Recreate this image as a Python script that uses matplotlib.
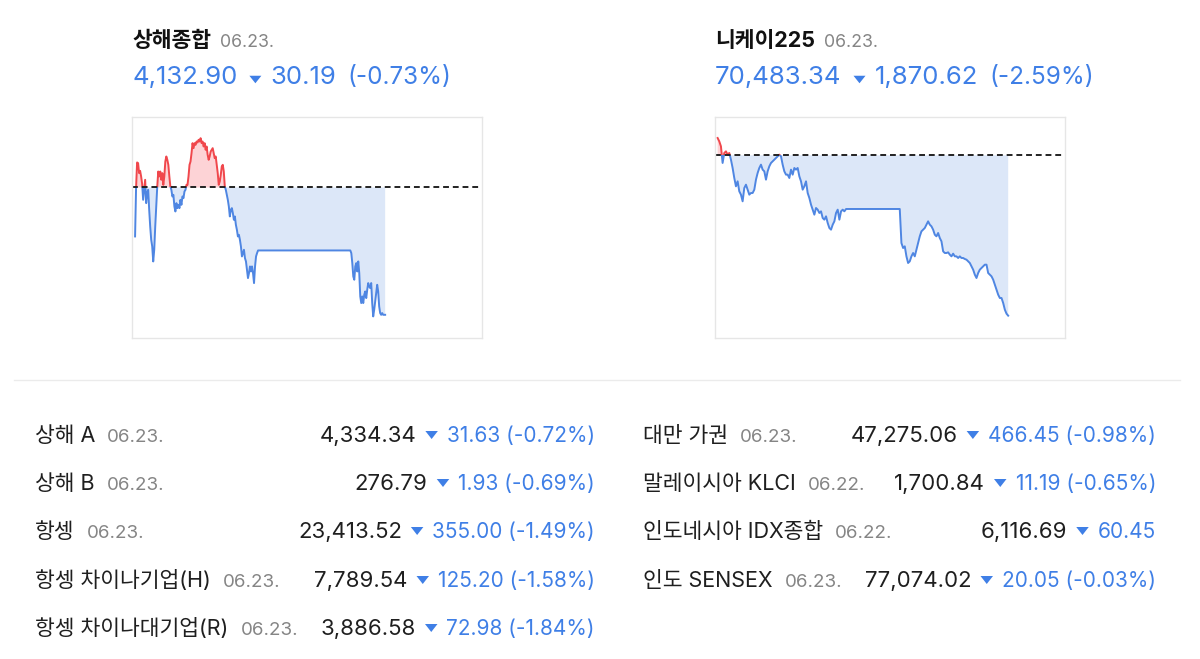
import numpy as np
import matplotlib
matplotlib.use("Agg")
from matplotlib import pyplot as plt
from matplotlib.lines import Line2D
from matplotlib.patches import Rectangle, Polygon

plt.rcParams['font.family'] = ['Inter', 'Noto Sans CJK KR', 'DejaVu Sans']

# ---- intraday data: 상해종합 (evenly spaced samples per session)
sh_prev_close = 4163.09
sh_am_times = ("09:30", "11:30")
sh_am = [4151.48, 4163.09, 4169.02, 4168.86, 4166.49, 4167.04, 4165.70, 4163.96, 4160.17, 4162.54,
         4164.91, 4159.38, 4161.75, 4162.54, 4157.80, 4153.85, 4150.69, 4149.11, 4145.55, 4148.32,
         4153.85, 4158.59, 4163.33, 4166.88, 4165.70, 4166.88, 4164.91, 4166.49, 4163.72, 4165.70,
         4169.25, 4170.44, 4169.65, 4168.46, 4165.70, 4163.33, 4162.54, 4160.96, 4161.35, 4158.59,
         4157.40, 4159.38, 4158.19, 4158.98, 4158.19, 4160.17, 4158.98, 4160.96, 4160.56, 4162.14,
         4162.54, 4163.72, 4163.72, 4165.70, 4168.46, 4169.25, 4171.23, 4173.60, 4172.41, 4173.60,
         4173.20, 4173.99, 4173.76, 4174.39, 4173.99, 4174.78, 4173.60, 4173.99, 4172.81, 4173.60,
         4172.02, 4172.81, 4170.83, 4169.65, 4170.44, 4171.62, 4172.02, 4172.41, 4171.23, 4170.04,
         4170.44, 4168.46, 4166.49, 4163.72, 4164.51, 4166.09, 4168.07, 4168.46, 4166.88, 4163.33,
         4162.54, 4161.35, 4160.17, 4158.59, 4156.22, 4157.80, 4158.19, 4157.01, 4155.43, 4156.22,
         4154.24, 4153.06, 4151.48, 4151.87, 4150.69, 4149.11, 4146.74, 4147.53, 4148.32, 4146.34,
         4145.55, 4143.58, 4141.60, 4142.79, 4144.37, 4143.18, 4144.37, 4142.79, 4140.42, 4144.37,
         4146.74, 4147.53, 4148.16]
sh_pm_times = ("13:00", "13:34")
sh_pm = [4148.16, 4147.53, 4145.16, 4142.00, 4141.21, 4144.37, 4145.16, 4143.18, 4145.55, 4142.79,
         4137.26, 4135.68, 4137.26, 4135.68, 4137.65, 4138.44, 4136.86, 4138.84, 4140.42, 4139.63,
         4139.23, 4140.42, 4135.68, 4132.52, 4134.10, 4136.07, 4138.05, 4140.02, 4138.44, 4134.89,
         4133.31, 4132.90, 4133.31, 4132.90, 4132.90, 4132.90]

# ---- intraday data: 니케이225
nk_prev_close = 72353.96
nk_am_times = ("09:00", "11:30")
nk_am = [72556.2, 72517.3, 72459.0, 72264.5, 72381.2, 72400.6, 72361.7, 72381.2, 72303.4, 72206.2,
         72089.5, 71992.3, 72050.6, 71934.0, 71895.1, 71817.3, 71972.8, 72011.7, 71953.4, 71895.1,
         71914.5, 71914.5, 71953.4, 72070.1, 72147.9, 72206.2, 72245.1, 72186.8, 72167.3, 72070.1,
         72167.3, 72225.7, 72264.5, 72284.0, 72303.4, 72322.9, 72342.3, 72361.7, 72342.3, 72245.1,
         72167.3, 72128.4, 72128.4, 72089.5, 72186.8, 72128.4, 72206.2, 72186.8, 72206.2, 72109.0,
         72050.6, 71953.4, 71992.3, 72050.6, 71914.5, 71856.2, 71778.4, 71720.1, 71661.8, 71739.5,
         71720.1, 71681.2, 71700.6, 71622.9, 71603.4, 71642.3, 71564.5, 71506.2, 71486.8, 71545.1,
         71584.0, 71681.2, 71720.1, 71603.4, 71700.6, 71720.1, 71700.6, 71727.9, 71727.9]
nk_pm_times = ("12:30", "14:35")
nk_pm = [71727.9, 71331.2, 71272.9, 71292.3, 71175.6, 71097.9, 71117.3, 71175.6, 71214.5, 71175.6,
         71253.4, 71331.2, 71409.0, 71467.3, 71486.8, 71506.2, 71545.1, 71584.0, 71545.1, 71525.6,
         71486.8, 71428.4, 71409.0, 71447.9, 71389.5, 71350.6, 71234.0, 71214.5, 71214.5, 71222.3,
         71195.1, 71175.6, 71206.7, 71175.6, 71175.6, 71156.2, 71175.6, 71156.2, 71156.2, 71144.5,
         71136.7, 71117.3, 71097.9, 71059.0, 71020.1, 70961.7, 70922.8, 70981.2, 71020.1, 71039.5,
         71059.0, 71078.4, 71078.4, 70981.2, 70961.7, 70942.3, 70903.4, 70845.1, 70786.7, 70728.4,
         70689.5, 70689.5, 70631.2, 70553.4, 70506.7, 70483.34]

# ---- header quotes
headers = ["상해종합", "니케이225"]
header_dates = ["06.23.", "06.23."]
header_values = ["4,132.90", "70,483.34"]
header_changes = ["30.19", "1,870.62"]
header_pcts = ["(-0.73%)", "(-2.59%)"]

# ---- table quotes
left_names = ["상해 A", "상해 B", "항셍", "항셍 차이나기업(H)", "항셍 차이나대기업(R)"]
left_dates = ["06.23.", "06.23.", "06.23.", "06.23.", "06.23."]
left_values = ["4,334.34", "276.79", "23,413.52", "7,789.54", "3,886.58"]
left_changes = ["31.63 (-0.72%)", "1.93 (-0.69%)", "355.00 (-1.49%)", "125.20 (-1.58%)", "72.98 (-1.84%)"]

right_names = ["대만 가권", "말레이시아 KLCI", "인도네시아 IDX종합", "인도 SENSEX"]
right_dates = ["06.23.", "06.22.", "06.22.", "06.23."]
right_values = ["47,275.06", "1,700.84", "6,116.69", "77,074.02"]
right_changes = ["466.45 (-0.98%)", "11.19 (-0.65%)", "60.45", "20.05 (-0.03%)"]

BLUE = '#3f7fe6'
LINE_BLUE = '#4f86e2'
FILL_BLUE = '#dce7f8'
LINE_RED = '#f0474c'
FILL_RED = '#fdd3d6'
DARK = '#1f1f1f'
GRAY = '#858585'

W, H = 1200, 659
fig = plt.figure(figsize=(W / 100, H / 100), dpi=100)
fig.patch.set_facecolor('white')


def px(x, y):
    return x / W, 1 - y / H


def minutes(hhmm, origin):
    h, m = map(int, hhmm.split(':'))
    oh, om = map(int, origin.split(':'))
    return (h * 60 + m) - (oh * 60 + om)


def draw_chart(ax, am_times, am, pm_times, pm, prev_close, xlim, ylim):
    origin = am_times[0]
    t_am = np.linspace(minutes(am_times[0], origin), minutes(am_times[1], origin), len(am))
    t_pm = np.linspace(minutes(pm_times[0], origin), minutes(pm_times[1], origin), len(pm))
    t = np.concatenate([t_am, t_pm])
    p = np.array(am + pm)

    ax.fill_between(t, p, prev_close, where=p >= prev_close, interpolate=True, color=FILL_RED, lw=0)
    ax.fill_between(t, p, prev_close, where=p <= prev_close, interpolate=True, color=FILL_BLUE, lw=0)

    above = Rectangle((xlim[0], prev_close), xlim[1] - xlim[0], ylim[1] - prev_close, transform=ax.transData)
    below = Rectangle((xlim[0], ylim[0]), xlim[1] - xlim[0], prev_close - ylim[0], transform=ax.transData)
    red_line, = ax.plot(t, p, color=LINE_RED, lw=1.4, solid_joinstyle='round')
    red_line.set_clip_path(above)
    blue_line, = ax.plot(t, p, color=LINE_BLUE, lw=1.4, solid_joinstyle='round')
    blue_line.set_clip_path(below)

    ax.axhline(prev_close, color='#222222', lw=1.4, ls=(0, (3, 2)))
    ax.set_xlim(*xlim)
    ax.set_ylim(*ylim)
    ax.set_xticks([])
    ax.set_yticks([])
    for s in ax.spines.values():
        s.set_color('#e6e6e6')
        s.set_linewidth(1.0)


ax1 = fig.add_axes([132 / W, 1 - 338 / H, 350 / W, 221 / H])
draw_chart(ax1, sh_am_times, sh_am, sh_pm_times, sh_pm, sh_prev_close, (-3, 338.5), (4127.4, 4179.8))
ax2 = fig.add_axes([715 / W, 1 - 338 / H, 350 / W, 221 / H])
draw_chart(ax2, nk_am_times, nk_am, nk_pm_times, nk_pm, nk_prev_close, (-3, 400.5), (70223, 72801))

renderer = fig.canvas.get_renderer()


def put(x, y, s, **kw):
    t = fig.text(*px(x, y), s, va='baseline', **kw)
    return t.get_window_extent(renderer=renderer)


def tri(x_left, y_mid, w=12.5, h=8):
    # small down-pointing marker, drawn in pixel units
    pts = [px(x_left, y_mid - h / 2), px(x_left + w, y_mid - h / 2), px(x_left + w / 2, y_mid + h / 2)]
    fig.add_artist(Polygon(pts, closed=True, transform=fig.transFigure, color=BLUE, lw=0))
    return x_left, x_left + w


# headers
for x0, name, date, val, chg, pct in zip([132, 715], headers, header_dates, header_values,
                                          header_changes, header_pcts):
    bb = put(x0, 47, name, ha='left', color='#111111', fontsize=15.5, fontweight='bold')
    put(bb.x1 + 9, 47, date, ha='left', color=GRAY, fontsize=12.8)
    bb = put(x0, 84, val, ha='left', color=BLUE, fontsize=18.5)
    _, tx1 = tri(bb.x1 + 12, 79.5, w=12, h=7.5)
    bb = put(tx1 + 9, 84, chg, ha='left', color=BLUE, fontsize=18.5)
    put(bb.x1 + 11, 84, pct, ha='left', color=BLUE, fontsize=17.5)

# separator
fig.add_artist(Line2D([14 / W, 1180 / W], [1 - 380 / H] * 2, color='#ebebeb', lw=1.0))

# table
row_base = [442, 490, 538, 587, 635]
for col_x, col_right, names, dates, vals, chgs in [
        (35, 595, left_names, left_dates, left_values, left_changes),
        (643, 1156, right_names, right_dates, right_values, right_changes)]:
    for i, (n, d, v, c) in enumerate(zip(names, dates, vals, chgs)):
        yb = row_base[i]
        bb = put(col_x, yb, n, ha='left', color=DARK, fontsize=15.5)
        put(bb.x1 + 12, yb, d, ha='left', color=GRAY, fontsize=13.5)
        bb = put(col_right, yb, c, ha='right', color=BLUE, fontsize=15)
        tx0, _ = tri(bb.x0 - 9 - 12.5, yb - 7)
        put(tx0 - 9, yb, v, ha='right', color=DARK, fontsize=16)

fig.savefig('out.png', dpi=100, facecolor='white')
